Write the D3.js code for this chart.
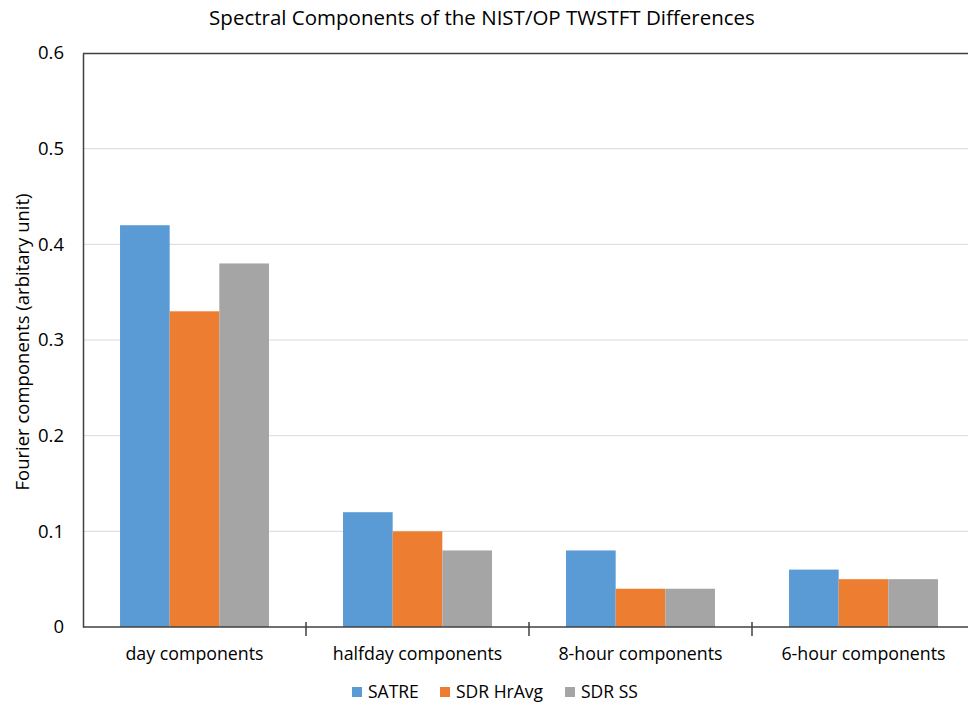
<!DOCTYPE html>
<html>
<head>
<meta charset="utf-8">
<script src="https://cdn.jsdelivr.net/npm/d3@7"></script>
<style>
  html, body { margin: 0; padding: 0; background: #fff; }
  svg { display: block; }
  text { font-family: "Open Sans", "Liberation Sans", sans-serif; fill: #000; }
</style>
</head>
<body>
<svg id="chart" width="968" height="705"></svg>
<script>
// Chart data
const categories = ["day components", "halfday components", "8-hour components", "6-hour components"];
const seriesNames = ["SATRE", "SDR HrAvg", "SDR SS"];
const satre = [0.42, 0.12, 0.08, 0.06];
const sdrHrAvg = [0.33, 0.10, 0.04, 0.05];
const sdrSS = [0.38, 0.08, 0.04, 0.05];
const yTicks = [0, 0.1, 0.2, 0.3, 0.4, 0.5, 0.6];
const colors = ["#5b9bd5", "#ed7d31", "#a5a5a5"];

const seriesValues = [satre, sdrHrAvg, sdrSS];

const svg = d3.select("#chart");
const m = { left: 83, top: 53, bottom: 627 };

const y = d3.scaleLinear().domain([0, 0.6]).range([m.bottom, m.top]);
const x = d3.scaleBand().domain(categories).range([m.left, 975]).padding(0);
const bw = x.bandwidth();
const xs = d3.scaleBand().domain(seriesNames).range([bw * 0.166, bw * 0.834]).padding(0);

// Horizontal gridlines
svg.append("g")
  .selectAll("line")
  .data(yTicks.filter(t => t > 0 && t < 0.6))
  .join("line")
  .attr("x1", m.left).attr("x2", 968)
  .attr("y1", d => y(d)).attr("y2", d => y(d))
  .attr("stroke", "#d9d9d9").attr("stroke-width", 1);

// Bars
const groups = svg.append("g")
  .selectAll("g")
  .data(categories)
  .join("g")
  .attr("transform", d => `translate(${x(d)},0)`);

groups.selectAll("rect")
  .data((d, i) => seriesNames.map((s, j) => ({ s, v: seriesValues[j][i], j })))
  .join("rect")
  .attr("x", d => xs(d.s))
  .attr("width", xs.bandwidth())
  .attr("y", d => y(d.v))
  .attr("height", d => y(0) - y(d.v))
  .attr("fill", d => colors[d.j]);

// Frame: top line
svg.append("line")
  .attr("x1", m.left).attr("x2", 968).attr("y1", y(0.6) + 0.5).attr("y2", y(0.6) + 0.5)
  .attr("stroke", "#404040").attr("stroke-width", 1.5);

// Y axis
const yAxis = svg.append("g")
  .attr("transform", `translate(${m.left},0)`)
  .call(d3.axisLeft(y).tickValues(yTicks).tickFormat(d => d === 0 ? "0" : d3.format(".1f")(d)).tickSize(0).tickPadding(19));
yAxis.select(".domain").attr("stroke", "#404040").attr("stroke-width", 1.5);
yAxis.selectAll("text").attr("font-size", 18.5).attr("fill", "#000");

// X axis with category separators
const xAxis = svg.append("g")
  .attr("transform", `translate(0,${m.bottom})`)
  .call(d3.axisBottom(x).tickSize(0).tickPadding(20));
xAxis.select(".domain").attr("stroke", "#404040").attr("stroke-width", 1.5).attr("d", `M${m.left},0H968`);
xAxis.selectAll("text").attr("font-size", 17.8).attr("fill", "#000");

svg.append("g")
  .selectAll("line")
  .data(categories.slice(1))
  .join("line")
  .attr("x1", d => x(d)).attr("x2", d => x(d))
  .attr("y1", m.bottom - 5).attr("y2", m.bottom + 9)
  .attr("stroke", "#404040").attr("stroke-width", 1.5);

// Title
svg.append("text")
  .attr("x", 482).attr("y", 25)
  .attr("text-anchor", "middle")
  .attr("font-size", 20.5)
  .text("Spectral Components of the NIST/OP TWSTFT Differences");

// Y axis title
svg.append("text")
  .attr("transform", `translate(29,342) rotate(-90)`)
  .attr("text-anchor", "middle")
  .attr("font-size", 18.5)
  .text("Fourier components (arbitary unit)");

// Legend
const legendX = [352, 440, 565];
const legend = svg.append("g")
  .selectAll("g")
  .data(seriesNames)
  .join("g")
  .attr("transform", (d, i) => `translate(${legendX[i]},687)`);
legend.append("rect").attr("width", 10).attr("height", 10).attr("fill", (d, i) => colors[i]);
legend.append("text").attr("x", 16).attr("y", 11).attr("font-size", 17.5).text(d => d);
</script>
</body>
</html>
